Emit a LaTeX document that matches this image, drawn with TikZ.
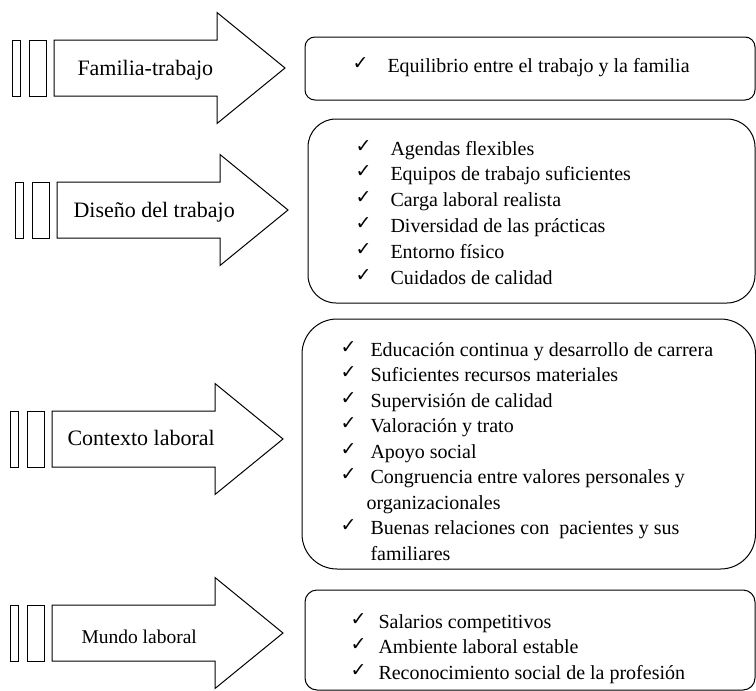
\documentclass[tikz,border=0pt]{standalone}
\usepackage{fontspec}
\setmainfont{Liberation Serif}
\newfontfamily\tickfont{DejaVu Sans}
\begin{document}
\begin{tikzpicture}[x=1pt,y=-1pt,line width=1pt,
  item/.style={anchor=base west,inner sep=0pt,font=\fontsize{20}{24}\selectfont},
  tick/.style={anchor=base west,inner sep=0pt,yshift=3pt,font=\tickfont\fontsize{19}{22}\selectfont},
  hdr/.style={anchor=base west,inner sep=0pt,font=\fontsize{22}{26}\selectfont},
  panel/.style={draw,line width=1pt,inner sep=0pt},
  bandarrow/.pic={
    \draw (0,-28) rectangle (8,28);
    \draw (17,-28) rectangle (34,28);
    \draw (42,-28) -- (205,-28) -- (205,-55.5) -- (273,0) -- (205,55.5)
          -- (205,28) -- (42,28) -- cycle;
  }]
\useasboundingbox (0,0) rectangle (756,691);

% arrows on the left
\pic (a1) at (12,68)  {bandarrow};
\pic (a2) at (15,210) {bandarrow};
\pic (a3) at (10,439) {bandarrow};
\pic (a4) at (10,633) {bandarrow};

\node[hdr] (h1) at (77,75)  {Familia-trabajo};
\node[hdr] (h2) at (73,217) {Diseño del trabajo};
\node[hdr] (h3) at (67,445) {Contexto laboral};
\node[hdr,font=\fontsize{19.5}{24}\selectfont] (h4) at (81,643) {Mundo laboral};

% rounded panels on the right
\node[panel,rounded corners=10pt,minimum width=450pt,minimum height=63pt]  (b1) at (530,68.5)  {};
\node[panel,rounded corners=28pt,minimum width=447pt,minimum height=184pt] (b2) at (531.5,211) {};
\node[panel,rounded corners=35pt,minimum width=453.5pt,minimum height=250pt] (b3) at (528.75,444) {};
\node[panel,rounded corners=12pt,minimum width=450pt,minimum height=100pt] (b4) at (530,640) {};

% panel 1
\node[tick] (t10) at (352,72) {✓};
\node[item] (e10) at (387,72) {Equilibrio entre el trabajo y la familia};

% panel 2
\foreach \txt [count=\i from 0] in {Agendas flexibles,Equipos de trabajo suficientes,
  Carga laboral realista,Diversidad de las prácticas,Entorno físico,Cuidados de calidad}{
  \node[tick] (t2\i) at (355,155+25.8*\i) {✓};
  \node[item] (e2\i) at (390,155+25.8*\i) {\txt};
}

% panel 3
\foreach \txt/\k in {Educación continua y desarrollo de carrera/0,
  Suficientes recursos materiales/1,Supervisión de calidad/2,
  Valoración y trato/3,Apoyo social/4,Congruencia entre valores personales y/5}{
  \node[tick] (t3\k) at (340,356+25.5*\k) {✓};
  \node[item] (e3\k) at (370,356+25.5*\k) {\txt};
}
\node[item] (e36) at (366,356+25.5*6) {organizacionales};
\node[tick] (t37) at (340,356+25.5*7) {✓};
\node[item] (e37) at (370,356+25.5*7) {Buenas relaciones con\ \ pacientes y sus};
\node[item] (e38) at (370,356+25.5*8) {familiares};

% panel 4
\foreach \txt [count=\i from 0] in {Salarios competitivos,Ambiente laboral estable,
  Reconocimiento social de la profesión}{
  \node[tick] (t4\i) at (350,628+25.5*\i) {✓};
  \node[item] (e4\i) at (378,628+25.5*\i) {\txt};
}
\end{tikzpicture}
\end{document}
